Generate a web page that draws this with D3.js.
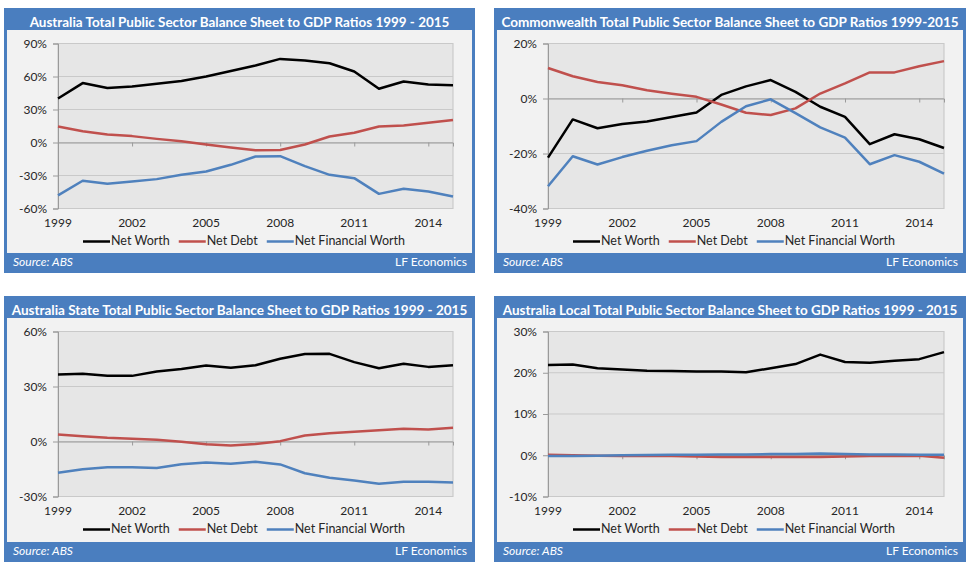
<!DOCTYPE html>
<html><head><meta charset="utf-8">
<script src="https://cdn.jsdelivr.net/npm/d3@7"></script>
<style>body{margin:0;background:#fff;} svg{display:block;}</style>
</head><body><svg id="c" width="972" height="569"></svg>
<script>
// ---------- data ----------
const years = [1999,2000,2001,2002,2003,2004,2005,2006,2007,2008,2009,2010,2011,2012,2013,2014,2015];
const xTickYears = [1999,2002,2005,2008,2011,2014];
const seriesNames = ["Net Worth","Net Debt","Net Financial Worth"];
const titles = [
  "Australia Total Public Sector Balance Sheet to GDP Ratios 1999 - 2015",
  "Commonwealth Total Public Sector Balance Sheet to GDP Ratios 1999-2015",
  "Australia State Total Public Sector Balance Sheet to GDP Ratios 1999 - 2015",
  "Australia Local Total Public Sector Balance Sheet to GDP Ratios 1999 - 2015"
];
const sourceText = "Source: ABS";
const creditText = "LF Economics";

// values in percent of GDP
const totalNetWorth = [40, 54, 49.5, 51, 53.5, 56, 60, 65, 70, 76, 74.5, 72, 64.5, 48.8, 55.5, 52.7, 52];
const totalNetDebt  = [14.5, 10.3, 7.2, 5.8, 3.3, 1.2, -1.8, -4.5, -7, -6.8, -1.8, 5.5, 8.8, 14.5, 15.5, 18, 20.5];
const totalNetFin   = [-48, -34.8, -37.5, -35.5, -33.3, -29.4, -26.4, -20.3, -12.7, -12.4, -21.5, -29.4, -32.4, -46.7, -42, -44.5, -49];

const cwNetWorth = [-21.5, -7.6, -10.8, -9.3, -8.4, -6.7, -5.1, 1.3, 4.4, 6.7, 2.4, -3, -6.7, -16.6, -13, -14.8, -18];
const cwNetDebt  = [11.1, 8.1, 6, 4.8, 3, 1.7, 0.6, -2.2, -5.2, -6, -3.6, 1.8, 5.5, 9.5, 9.5, 11.7, 13.6];
const cwNetFin   = [-31.9, -21, -24, -21.3, -19, -17, -15.5, -8.5, -2.8, -0.3, -5.3, -10.5, -14.2, -23.9, -20.6, -23, -27.3];

const stateNetWorth = [36.5, 36.9, 35.8, 35.8, 38.2, 39.6, 41.5, 40.2, 41.6, 45.1, 47.7, 47.8, 43.3, 40, 42.4, 40.7, 41.6];
const stateNetDebt  = [3.8, 2.9, 2, 1.5, 0.9, -0.2, -1.5, -2.2, -1.3, 0.2, 3.3, 4.5, 5.3, 6.2, 6.9, 6.5, 7.5];
const stateNetFin   = [-17.1, -15.1, -14, -14, -14.5, -12.4, -11.5, -12.2, -11.1, -12.5, -17.3, -19.8, -21.3, -23.1, -22, -22, -22.4];

const localNetWorth = [21.9, 22.0, 21.1, 20.8, 20.5, 20.4, 20.3, 20.3, 20.1, 21.1, 22.1, 24.4, 22.6, 22.4, 22.9, 23.3, 25];
const localNetDebt  = [0.1, 0, -0.1, -0.2, -0.2, -0.2, -0.3, -0.4, -0.4, -0.4, -0.4, -0.4, -0.3, -0.2, -0.2, -0.1, -0.6];
const localNetFin   = [-0.2, -0.2, -0.1, 0, 0.05, 0.1, 0.1, 0.2, 0.2, 0.3, 0.3, 0.4, 0.3, 0.2, 0.2, 0.1, 0.1];

const totalTicks = [-60, -30, 0, 30, 60, 90];
const cwTicks    = [-40, -20, 0, 20];
const stateTicks = [-30, 0, 30, 60];
const localTicks = [-10, 0, 10, 20, 30];

// ---------- layout / style ----------
const colors = ["#000000", "#c0504d", "#4f81bd"];
const frameBlue = "#4a7ebf";
const panels = [
  {box:{x:4,y:8,w:471,h:265},   title:titles[0], series:[totalNetWorth,totalNetDebt,totalNetFin], ticks:totalTicks, titleW:420},
  {box:{x:494,y:8,w:472,h:265}, title:titles[1], series:[cwNetWorth,cwNetDebt,cwNetFin], ticks:cwTicks, titleW:458},
  {box:{x:4,y:296,w:471,h:266}, title:titles[2], series:[stateNetWorth,stateNetDebt,stateNetFin], ticks:stateTicks, titleW:456},
  {box:{x:494,y:296,w:472,h:266}, title:titles[3], series:[localNetWorth,localNetDebt,localNetFin], ticks:localTicks, titleW:455}
];
const FONT = "Lato, 'Open Sans', sans-serif";
const svg = d3.select("#c");

panels.forEach(p => {
  const b = p.box;
  const g = svg.append("g").attr("transform", `translate(${b.x},${b.y})`);
  // frame
  g.append("rect").attr("width", b.w).attr("height", b.h).attr("fill", frameBlue);
  g.append("rect").attr("x", 3).attr("y", 22).attr("width", b.w - 6).attr("height", b.h - 42).attr("fill", "#f2f2f2");
  // title
  const t = g.append("text").attr("x", b.w / 2).attr("y", 16)
    .attr("text-anchor", "middle").attr("dominant-baseline", "middle")
    .attr("fill", "#fff").attr("font-family", FONT).attr("font-weight", "bold")
    .attr("font-size", 14).text(p.title);
  const tw = t.node().getComputedTextLength();
  t.attr("font-size", 14 * p.titleW / tw);
  // footer
  g.append("text").attr("x", 9).attr("y", b.h - 10).attr("dominant-baseline", "middle")
    .attr("fill", "#fff").attr("font-family", FONT).attr("font-style", "italic")
    .attr("font-size", 12).text(sourceText);
  g.append("text").attr("x", b.w - 8).attr("y", b.h - 10).attr("dominant-baseline", "middle")
    .attr("text-anchor", "end").attr("fill", "#fff").attr("font-family", FONT)
    .attr("font-size", 12).text(creditText);

  // plot
  const left = 54, right = b.w - 22, top = 35.5, bottom = top + 165;
  const x = d3.scaleLinear().domain([years[0], years[years.length - 1]]).range([left, right]);
  const y = d3.scaleLinear().domain(d3.extent(p.ticks)).range([bottom, top]);

  g.append("rect").attr("x", left).attr("y", top).attr("width", right - left).attr("height", bottom - top)
    .attr("fill", "#e6e6e6").attr("stroke", "#c4c4c4").attr("stroke-width", 1);

  // gridlines
  g.append("g").selectAll("line").data(p.ticks).join("line")
    .attr("x1", left).attr("x2", right).attr("y1", d => y(d)).attr("y2", d => y(d))
    .attr("stroke", "#c9c9c9").attr("stroke-width", 1);

  // y axis
  const yAxis = d3.axisLeft(y).tickValues(p.ticks).tickSize(5).tickPadding(6).tickFormat(d => d + "%");
  const ya = g.append("g").attr("transform", `translate(${left},0)`).call(yAxis);
  ya.select(".domain").attr("stroke", "#9a9a9a");
  ya.selectAll(".tick line").attr("stroke", "#9a9a9a");
  ya.selectAll("text").attr("font-family", FONT).attr("font-size", 12).attr("fill", "#262626");

  // x axis line at zero with ticks
  const xAxis = d3.axisBottom(x).tickValues(xTickYears).tickSize(4).tickFormat("");
  const xa = g.append("g").attr("transform", `translate(0,${y(0)})`).call(xAxis);
  xa.select(".domain").attr("stroke", "#9a9a9a");
  xa.selectAll(".tick line").attr("stroke", "#9a9a9a");
  // x labels at bottom
  g.append("g").selectAll("text").data(xTickYears).join("text")
    .attr("x", d => x(d)).attr("y", bottom + 18).attr("text-anchor", "middle")
    .attr("font-family", FONT).attr("font-size", 12).attr("fill", "#262626").text(d => d);

  // lines
  const line = d3.line().x((d, i) => x(years[i])).y(d => y(d));
  p.series.forEach((s, k) => {
    g.append("path").datum(s).attr("d", line).attr("fill", "none")
      .attr("stroke", colors[k]).attr("stroke-width", 2.5).attr("stroke-linejoin", "round");
  });

  // legend
  const lg = g.append("g").attr("transform", `translate(0,${bottom + 33})`);
  let cx = 79;
  seriesNames.forEach((n, k) => {
    lg.append("line").attr("x1", cx).attr("x2", cx + 27).attr("y1", 0).attr("y2", 0)
      .attr("stroke", colors[k]).attr("stroke-width", 2.5);
    const tt = lg.append("text").attr("x", cx + 28).attr("y", 0).attr("dominant-baseline", "middle")
      .attr("font-family", FONT).attr("font-size", 12.5).attr("fill", "#262626").text(n);
    cx += 28 + tt.node().getComputedTextLength() + 9;
  });
});
</script></body></html>
